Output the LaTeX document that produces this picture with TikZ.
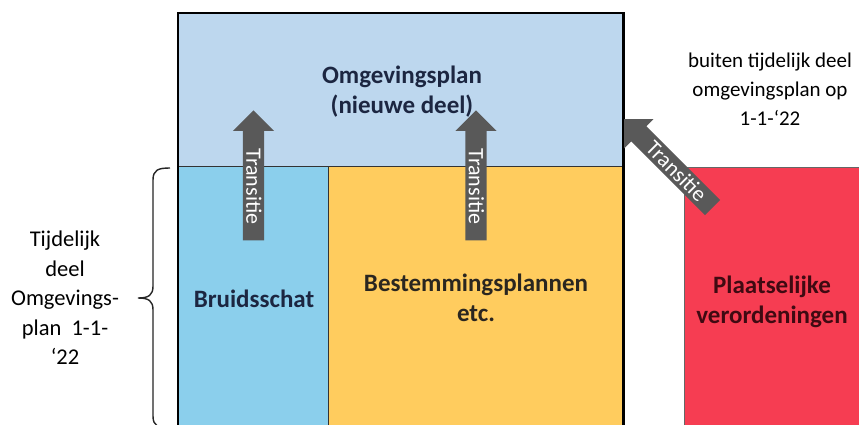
\documentclass[tikz,border=0pt]{standalone}
\usepackage{fontspec}
\setmainfont{Carlito}
\usetikzlibrary{shapes.arrows}
\definecolor{bandblue}{HTML}{BDD7EE}
\definecolor{bruidblue}{HTML}{8BCFEC}
\definecolor{bpyellow}{HTML}{FFCC5E}
\definecolor{pvred}{HTML}{F63D52}
\definecolor{arrowgray}{HTML}{595959}
\definecolor{navytext}{HTML}{1C2641}
\definecolor{darktext}{HTML}{2A2620}
\definecolor{maroontext}{HTML}{3F0A12}
\begin{document}
\begin{tikzpicture}[x=1pt,y=-1pt,
  area/.style={inner sep=0pt, anchor=north west},
  boxlabel/.style={font=\fontsize{25}{30}\selectfont\bfseries, align=center, inner sep=0pt},
  plaintext/.style={font=\fontsize{21}{29}\selectfont, align=center, inner sep=0pt},
  transarrow/.style={single arrow, fill=arrowgray, text=white,
    font=\fontsize{22}{22}\selectfont, single arrow head extend=10pt,
    text height=14.5pt, text depth=0pt, inner ysep=3.25pt, inner xsep=0pt,
    shape border rotate=180, anchor=tip}]
\useasboundingbox (0,0) rectangle (859,425);
\fill[white] (0,0) rectangle (859,425);
\begin{scope}
\clip (0,0) rectangle (859,425);
% areas
\node[area, fill=bandblue, minimum width=445pt, minimum height=153pt] (band) at (178,13) {};
\node[area, fill=bruidblue, minimum width=150pt, minimum height=270pt] (bruid) at (178,166) {};
\node[area, fill=bpyellow, minimum width=295pt, minimum height=270pt] (bp) at (328,166) {};
\node[area, fill=pvred, draw=black!60, line width=0.8pt, minimum width=220pt, minimum height=270pt] (pv) at (684,167) {};
% dividers and frame
\draw[line width=1.2pt, black!80] (band.south west) -- (band.south east);
\draw[line width=1.2pt, black!80] (bruid.north east) -- (bruid.south east);
\draw[line width=2.6pt, line join=miter] (bruid.south west) -- (band.north west) -- (band.north east) -- (bp.south east);
% labels
\node[boxlabel, text=navytext] (title) at (402,92) {Omgevingsplan\\(nieuwe deel)};
\node[boxlabel, text=navytext] (bruidtext) at (254,299) {Bruidsschat};
\node[boxlabel, text=darktext] (bptext) at (476,298) {Bestemmingsplannen\\etc.};
\node[boxlabel, text=maroontext] (pvtext) at (772,302) {Plaatselijke\\verordeningen};
% transition arrows
\node[transarrow, minimum height=130pt, rotate=-90] (t1) at (253.5,110) {\hspace*{12pt}Transitie};
\node[transarrow, minimum height=130pt, rotate=-90] (t2) at (476,110) {\hspace*{12pt}Transitie};
\node[transarrow, minimum height=125pt, rotate=-45] (t3) at (624,119) {\hspace*{12pt}Transitie};
% brace
\draw[line width=1.4pt, black!85] (170,168) .. controls (158,168) and (153,170) .. (153,180)
  -- (153,286) .. controls (153,295) and (149,298) .. (138,298)
  .. controls (149,298) and (153,301) .. (153,310)
  -- (153,416) .. controls (153,426) and (158,428) .. (170,428);
\end{scope}
\node[plaintext, font=\fontsize{22.5}{29.5}\selectfont] (lefttext) at (65,298) {Tijdelijk\\deel\\Omgevings-\\plan~ 1-1-\\‘22};
\node[plaintext] (righttext) at (770,89) {buiten tijdelijk deel\\omgevingsplan op\\1-1-‘22};
\end{tikzpicture}
\end{document}
